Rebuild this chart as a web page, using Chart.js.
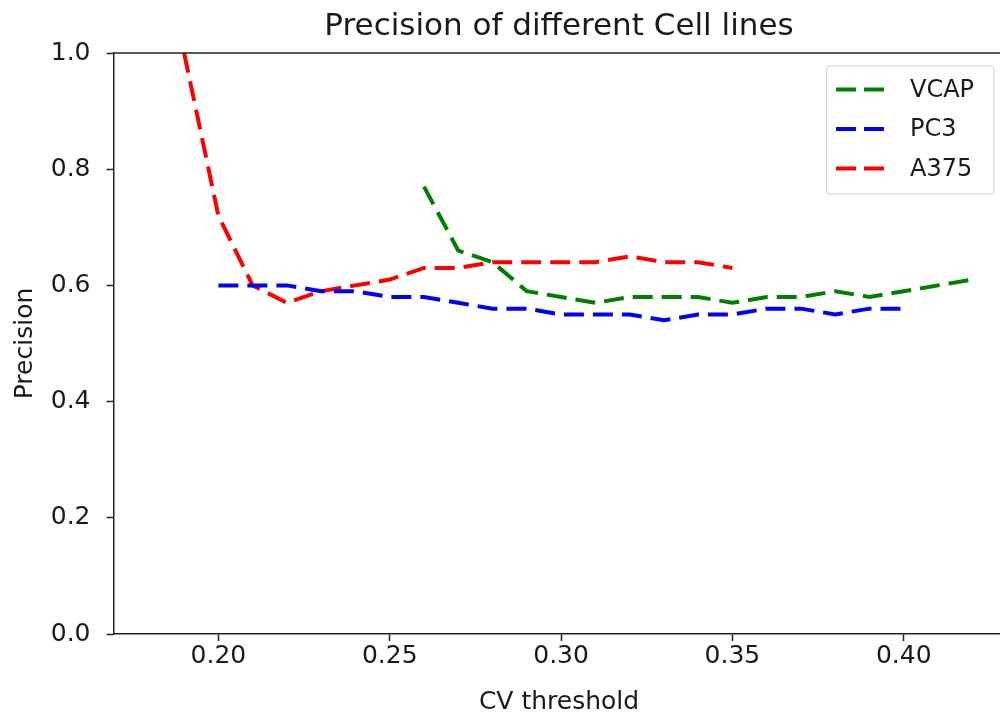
<!DOCTYPE html>
<html><head><meta charset="utf-8">
<script src="https://cdn.jsdelivr.net/npm/chart.js@4/dist/chart.umd.min.js"></script>
<style>html,body{margin:0;padding:0;background:#fff;overflow:hidden}#wrap{width:1005px;height:720px;position:relative}</style>
</head><body><div id="wrap"><canvas id="c"></canvas></div>
<script>
// ---- data ----
const cvVCAP = [0.26,0.27,0.28,0.29,0.30,0.31,0.32,0.33,0.34,0.35,0.36,0.37,0.38,0.39,0.40,0.41,0.42];
const precisionVCAP = [0.77,0.66,0.64,0.59,0.58,0.57,0.58,0.58,0.58,0.57,0.58,0.58,0.59,0.58,0.59,0.60,0.61];
const cvPC3 = [0.20,0.21,0.22,0.23,0.24,0.25,0.26,0.27,0.28,0.29,0.30,0.31,0.32,0.33,0.34,0.35,0.36,0.37,0.38,0.39,0.40];
const precisionPC3 = [0.60,0.60,0.60,0.59,0.59,0.58,0.58,0.57,0.56,0.56,0.55,0.55,0.55,0.54,0.55,0.55,0.56,0.56,0.55,0.56,0.56];
const cvA375 = [0.19,0.20,0.21,0.22,0.23,0.24,0.25,0.26,0.27,0.28,0.29,0.30,0.31,0.32,0.33,0.34,0.35];
const precisionA375 = [1.00,0.72,0.60,0.57,0.59,0.60,0.61,0.63,0.63,0.64,0.64,0.64,0.64,0.65,0.64,0.64,0.63];
const seriesNames = ['VCAP','PC3','A375'];
const seriesColors = ['#008000','#0000ff','#ff0000'];
const xTickValues = [0.20,0.25,0.30,0.35,0.40];
const yTickValues = [0.0,0.2,0.4,0.6,0.8,1.0];
const chartTitle = 'Precision of different Cell lines';
const xTitle = 'CV threshold';
const yTitle = 'Precision';

const FONT = '"DejaVu Sans", sans-serif';
const toPts = (xs, ys) => xs.map((x, i) => ({x, y: ys[i]}));
const seriesX = [cvVCAP, cvPC3, cvA375];
const seriesY = [precisionVCAP, precisionPC3, precisionA375];

const datasets = seriesNames.map((n, i) => ({
  label: n,
  data: toPts(seriesX[i], seriesY[i]),
  borderColor: seriesColors[i],
  backgroundColor: seriesColors[i],
  borderWidth: 4,
  borderDash: [20, 9],
  pointRadius: 0,
  fill: false,
  tension: 0
}));

const decor = {
  id: 'decor',
  afterDraw(chart) {
    const {ctx, chartArea: a} = chart;
    ctx.save();
    ctx.strokeStyle = '#222'; ctx.lineWidth = 1.5;
    ctx.beginPath();
    ctx.moveTo(a.left, a.top); ctx.lineTo(a.right, a.top);
    ctx.moveTo(a.right, a.top); ctx.lineTo(a.right, a.bottom);
    ctx.stroke();
    ctx.fillStyle = '#1a1a1a';
    ctx.textAlign = 'center'; ctx.textBaseline = 'middle';
    ctx.font = '31px ' + FONT;
    ctx.fillText(chartTitle, (a.left + a.right) / 2, 27);
    ctx.font = '25px ' + FONT;
    ctx.fillText(xTitle, (a.left + a.right) / 2, 702);
    ctx.save();
    ctx.translate(25, (a.top + a.bottom) / 2);
    ctx.rotate(-Math.PI / 2);
    ctx.fillText(yTitle, 0, 0);
    ctx.restore();
    // legend
    const bx = 826.5, by = 66, bw = 167.5, bh = 128;
    ctx.fillStyle = 'rgba(255,255,255,0.8)';
    ctx.strokeStyle = '#d6d6d6'; ctx.lineWidth = 1.2;
    ctx.beginPath();
    if (ctx.roundRect) ctx.roundRect(bx, by, bw, bh, 4); else ctx.rect(bx, by, bw, bh);
    ctx.fill(); ctx.stroke();
    const rows = [89.5, 129, 168.5];
    ctx.font = '24px ' + FONT;
    ctx.textAlign = 'left';
    chart.data.datasets.forEach((ds, i) => {
      ctx.strokeStyle = ds.borderColor; ctx.lineWidth = 4;
      ctx.setLineDash([20, 8]);
      ctx.beginPath(); ctx.moveTo(836, rows[i]); ctx.lineTo(884, rows[i]); ctx.stroke();
      ctx.setLineDash([]);
      ctx.fillStyle = '#1a1a1a';
      ctx.fillText(ds.label, 910, rows[i] + 1);
    });
    ctx.restore();
  }
};

new Chart(document.getElementById('c'), {
  type: 'line',
  data: {datasets},
  options: {
    responsive: true,
    maintainAspectRatio: false,
    animation: false,
    layout: {padding: {top: 53, right: 0.5, left: 0, bottom: 0}},
    plugins: {legend: {display: false}, title: {display: false}, tooltip: {enabled: false}},
    scales: {
      x: {
        type: 'linear', min: 0.1694, max: 0.4294,
        afterBuildTicks: s => { s.ticks = xTickValues.map(v => ({value: v})); },
        afterFit: s => { s.height = 86; },
        ticks: {color: '#1a1a1a', font: {family: FONT, size: 25}, padding: 0, maxRotation: 0,
                callback: v => Number(v).toFixed(2)},
        grid: {drawOnChartArea: false, drawTicks: true, tickLength: 7, color: '#222', tickWidth: 1.5},
        border: {display: true, color: '#222', width: 1.5}
      },
      y: {
        type: 'linear', min: 0, max: 1,
        afterBuildTicks: s => { s.ticks = yTickValues.map(v => ({value: v})); },
        afterFit: s => { s.width = 113.5; },
        ticks: {color: '#1a1a1a', font: {family: FONT, size: 25}, padding: 16,
                callback: v => Number(v).toFixed(1)},
        grid: {drawOnChartArea: false, drawTicks: true, tickLength: 7, color: '#222', tickWidth: 1.5},
        border: {display: true, color: '#222', width: 1.5}
      }
    }
  },
  plugins: [decor]
});
</script>
</body></html>
